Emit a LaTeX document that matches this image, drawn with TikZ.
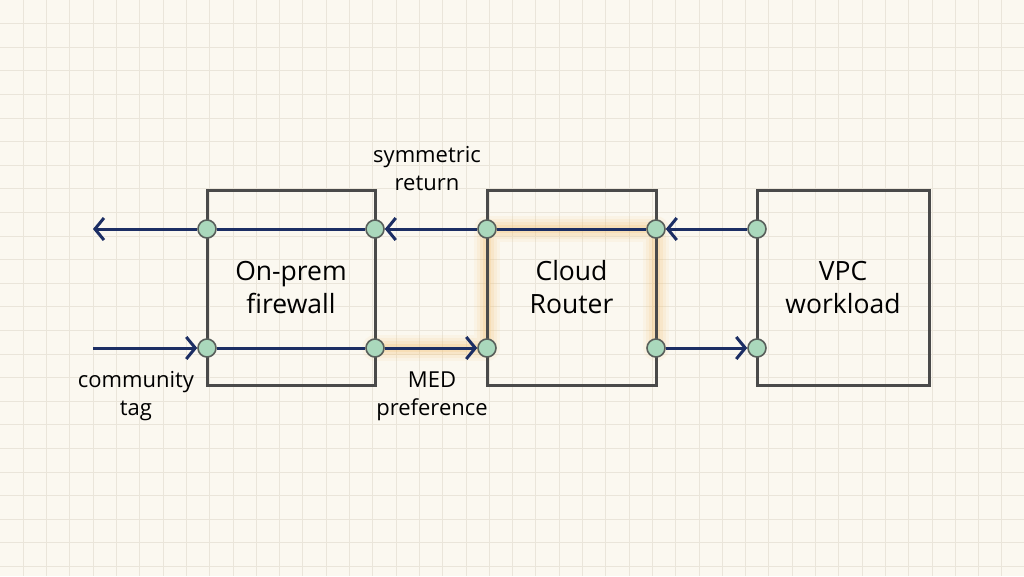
\documentclass[tikz,border=0pt]{standalone}
\usepackage{fontspec}
\setmainfont{Open Sans}
\usetikzlibrary{arrows.meta,positioning,backgrounds}

\begin{document}
\begin{tikzpicture}[x=1pt,y=-1pt]
\definecolor{paperColor}{RGB}{251,248,240}
\definecolor{gridColor}{RGB}{234,229,218}
\definecolor{boxColor}{RGB}{74,74,74}
\definecolor{flowColor}{RGB}{28,46,100}
\definecolor{portColor}{RGB}{170,216,188}
\definecolor{glowColor}{RGB}{246,192,110}
\tikzset{
  box/.style={draw=boxColor,line width=3pt,minimum height=195pt,inner sep=0pt,
    align=center,font=\fontsize{26.5}{33}\selectfont},
  port/.style={circle,draw=boxColor!85!portColor,fill=portColor,line width=1.6pt,
    minimum size=18pt,inner sep=0pt},
  wire/.style={draw=flowColor,line width=3pt},
  flow/.style={wire,-{Straight Barb[length=9pt,width=22pt,line width=3pt]}},
  note/.style={align=center,font=\fontsize{22}{28}\selectfont},
  glow/.style={draw=glowColor,line join=round,line cap=round}
}
\path[use as bounding box] (0,0) rectangle (1024,576);

% boxes
\node[box,minimum width=168pt] (fw)  at (291,287.5) {On-prem\\firewall};
\node[box,minimum width=169pt] (cr)  at (571.5,287.5) {Cloud\\Router};
\node[box,minimum width=172pt] (vpc) at (843,287.5) {VPC\\workload};

% ports
\node[port] (fwNW)  at (207,229) {};
\node[port] (fwNE)  at (375,229) {};
\node[port] (fwSW)  at (207,348) {};
\node[port] (fwSE)  at (375,348) {};
\node[port] (crNW)  at (487,229) {};
\node[port] (crNE)  at (656,229) {};
\node[port] (crSW)  at (487,348) {};
\node[port] (crSE)  at (656,348) {};
\node[port] (vpcNW) at (757,229) {};
\node[port] (vpcSW) at (757,348) {};
\coordinate (outL) at (93,229);
\coordinate (inL)  at (93,348);

% paper, grid and highlighted route
\begin{scope}[on background layer]
\fill[paperColor] (0,0) rectangle (1024,576);
\foreach \i in {1,...,43}
  \draw[gridColor,line width=1pt] (\i*23.3,0) -- (\i*23.3,576);
\foreach \j in {1,...,24}
  \draw[gridColor,line width=1pt] (0,\j*23.6) -- (1024,\j*23.6);
\foreach \w/\o in {26/0.08,20/0.10,14/0.14,8/0.2}
  \draw[glow,line width=\w pt,opacity=\o] (fwSE.center) -- (crSW.center) -- (crNW.center)
    -- (crNE.center) -- (crSE.center);
\end{scope}

% connectors
\draw[flow] (fwNW) -- (outL);
\draw[flow] (inL) -- (fwSW);
\draw[wire] (fwNW) -- (fwNE);
\draw[wire] (fwSW) -- (fwSE);
\draw[flow] (crNW) -- (fwNE);
\draw[flow] (fwSE) -- (crSW);
\draw[wire] (crNW) -- (crNE);
\draw[flow] (vpcNW) -- (crNE);
\draw[flow] (crSE) -- (vpcSW);

% labels
\node[note] (symLbl) at (427,169) {symmetric\\return};
\node[note] (medLbl) at (432,396) {MED\\preference};
\node[note] (comLbl) at (136,396) {community\\tag};
\end{tikzpicture}
\end{document}
